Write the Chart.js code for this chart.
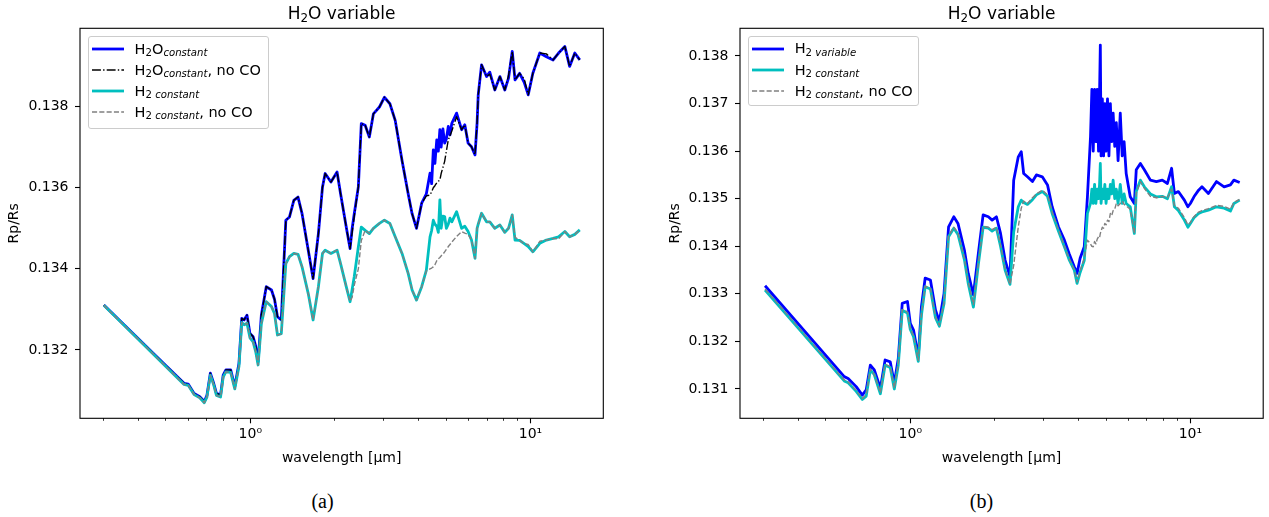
<!DOCTYPE html>
<html>
<head>
<meta charset="utf-8">
<script src="https://cdn.jsdelivr.net/npm/chart.js@4.4.0/dist/chart.umd.min.js"></script>
<style>
  body { margin: 0; background: #fff; }
  #fig { position: relative; width: 1269px; height: 517px; font-family: "DejaVu Sans", sans-serif; color: #000; overflow: hidden; }
  canvas { position: absolute; top: 0; }
  .title { position: absolute; top: 4.6px; font-size: 17px; line-height: 1; white-space: nowrap; transform: translateX(-50%); }
  .caption { position: absolute; top: 490.8px; font-family: "Liberation Serif", serif; font-size: 20px; line-height: 1; transform: translateX(-50%); }
  .legend { position: absolute; box-sizing: border-box; border: 1px solid #cccccc; border-radius: 3px; background: rgba(255,255,255,0.8); font-size: 14.5px; }
  .legend .row { position: absolute; left: 0; width: 100%; height: 21px; }
  .legend svg { position: absolute; left: 3.5px; top: 7.5px; }
  .legend .lbl { position: absolute; left: 46px; top: 0; line-height: 21px; white-space: nowrap; }
  .sub { font-size: 0.7em; position: relative; top: 0.25em; }
</style>
</head>
<body>
<div id="fig">
  <canvas id="chartA" width="640" height="471" style="left:0"></canvas>
  <canvas id="chartB" width="629" height="471" style="left:640px"></canvas>

  <div class="title" style="left:341.5px">H<span class="sub">2</span>O variable</div>
  <div class="title" style="left:1001.6px">H<span class="sub">2</span>O variable</div>

  <div class="legend" style="left:87.6px; top:35.5px; width:181.6px; height:93px">
    <div class="row" style="top:2px"><svg width="32" height="6"><line x1="0" y1="3" x2="32" y2="3" stroke="#0000ff" stroke-width="2.8"/></svg>
      <span class="lbl">H<span class="sub">2</span>O<span class="sub"><i>constant</i></span></span></div>
    <div class="row" style="top:23.1px"><svg width="32" height="6"><line x1="0" y1="3" x2="32" y2="3" stroke="#000" stroke-width="1.4" stroke-dasharray="8.9 2.2 1.4 2.2"/></svg>
      <span class="lbl">H<span class="sub">2</span>O<span class="sub"><i>constant</i></span>, no CO</span></div>
    <div class="row" style="top:44.2px"><svg width="32" height="6"><line x1="0" y1="3" x2="32" y2="3" stroke="#00bfbf" stroke-width="2.8"/></svg>
      <span class="lbl">H<span class="sub">2 <i>constant</i></span></span></div>
    <div class="row" style="top:65.3px"><svg width="32" height="6"><line x1="0" y1="3" x2="32" y2="3" stroke="#808080" stroke-width="1.4" stroke-dasharray="5.1 2.2"/></svg>
      <span class="lbl">H<span class="sub">2 <i>constant</i></span>, no CO</span></div>
  </div>

  <div class="legend" style="left:747.7px; top:35.7px; width:171.3px; height:70.3px">
    <div class="row" style="top:1.8px"><svg width="32" height="6"><line x1="0" y1="3" x2="32" y2="3" stroke="#0000ff" stroke-width="2.8"/></svg>
      <span class="lbl">H<span class="sub">2 <i>variable</i></span></span></div>
    <div class="row" style="top:22.9px"><svg width="32" height="6"><line x1="0" y1="3" x2="32" y2="3" stroke="#00bfbf" stroke-width="2.8"/></svg>
      <span class="lbl">H<span class="sub">2 <i>constant</i></span></span></div>
    <div class="row" style="top:44px"><svg width="32" height="6"><line x1="0" y1="3" x2="32" y2="3" stroke="#808080" stroke-width="1.4" stroke-dasharray="5.1 2.2"/></svg>
      <span class="lbl">H<span class="sub">2 <i>constant</i></span>, no CO</span></div>
  </div>

  <div class="caption" style="left:322.5px">(a)</div>
  <div class="caption" style="left:981.5px">(b)</div>
</div>

<script>
// ---- data (a) ----
const wavelengthA = [0.30, 0.45, 0.58, 0.60, 0.63, 0.66, 0.685, 0.70, 0.72, 0.74,
  0.757, 0.783, 0.80, 0.818, 0.851, 0.88, 0.911, 0.932, 0.95, 0.973,
  0.997, 1.023, 1.045, 1.066, 1.095, 1.14, 1.19, 1.22, 1.25, 1.29,
  1.339, 1.38, 1.43, 1.48, 1.53, 1.61, 1.675, 1.75, 1.81, 1.85,
  1.94, 2.04, 2.10, 2.20, 2.27, 2.31, 2.35, 2.43, 2.49, 2.57,
  2.66, 2.75, 2.89, 3.01, 3.15, 3.29, 3.48, 3.66, 3.78, 3.92,
  4.09, 4.25, 4.38, 4.44, 4.50, 4.56, 4.63, 4.69, 4.75, 4.80, 4.87, 4.94, 5.01, 5.09, 5.16, 5.24,
  5.45, 5.68, 5.83, 5.99, 6.16, 6.34, 6.45, 6.51, 6.69, 6.97,
  7.16, 7.46, 7.78, 8.10, 8.35, 8.61, 8.81, 9.15, 9.50, 9.82,
  10.2, 10.8, 11.4, 12.05, 12.6, 13.27, 13.8, 14.4, 15.0];

const h2oConstant = [0.13311, 0.13192, 0.13118, 0.13116, 0.13093, 0.13085, 0.13073, 0.13088, 0.13143, 0.13118,
  0.13093, 0.13089, 0.13138, 0.13151, 0.13151, 0.13110, 0.13167, 0.13278, 0.13274, 0.13286,
  0.13241, 0.13233, 0.13210, 0.13171, 0.13286, 0.13356, 0.13348, 0.13325, 0.13282, 0.13274,
  0.13520, 0.13528, 0.13569, 0.13577, 0.13536, 0.13446, 0.13376, 0.13487, 0.13602, 0.13635,
  0.13614, 0.13639, 0.13585, 0.13503, 0.13450, 0.13500, 0.13536, 0.13602, 0.13758, 0.13754,
  0.13725, 0.13782, 0.13799, 0.13823, 0.13807, 0.13766, 0.13667, 0.13585, 0.13536, 0.13500,
  0.13562, 0.13585, 0.13636, 0.13610, 0.13693, 0.13660, 0.13718, 0.13690, 0.13743, 0.13700, 0.13745, 0.13710, 0.13720, 0.13751, 0.13730, 0.13759,
  0.13784, 0.13743, 0.13755, 0.13710, 0.13701, 0.13681, 0.13760, 0.13829, 0.13903, 0.13874,
  0.13885, 0.13841, 0.13874, 0.13841, 0.13870, 0.13936, 0.13866, 0.13882, 0.13860, 0.13829,
  0.13882, 0.13932, 0.13923, 0.13915, 0.13932, 0.13948, 0.13899, 0.13932, 0.13915];

const h2oConstantNoCO = [0.13311, 0.13192, 0.13118, 0.13116, 0.13093, 0.13085, 0.13073, 0.13088, 0.13143, 0.13118,
  0.13093, 0.13089, 0.13138, 0.13151, 0.13151, 0.13110, 0.13167, 0.13278, 0.13274, 0.13286,
  0.13241, 0.13233, 0.13210, 0.13171, 0.13286, 0.13356, 0.13348, 0.13325, 0.13282, 0.13274,
  0.13520, 0.13528, 0.13569, 0.13577, 0.13536, 0.13446, 0.13376, 0.13487, 0.13602, 0.13635,
  0.13614, 0.13639, 0.13585, 0.13503, 0.13450, 0.13490, 0.13530, 0.13602, 0.13758, 0.13754,
  0.13725, 0.13782, 0.13799, 0.13823, 0.13807, 0.13766, 0.13667, 0.13585, 0.13536, 0.13500,
  0.13562, 0.13580, 0.13582, 0.13590, 0.13600, 0.13605, 0.13612, 0.13616, 0.13619, 0.13635, 0.13650, 0.13665, 0.13690, 0.13718, 0.13728, 0.13740,
  0.13775, 0.13743, 0.13755, 0.13710, 0.13701, 0.13681, 0.13760, 0.13829, 0.13903, 0.13874,
  0.13880, 0.13841, 0.13874, 0.13841, 0.13876, 0.13936, 0.13866, 0.13882, 0.13868, 0.13829,
  0.13882, 0.13932, 0.13930, 0.13915, 0.13932, 0.13948, 0.13899, 0.13932, 0.13915];

const h2Constant = [0.13310, 0.13190, 0.13115, 0.13113, 0.13090, 0.13082, 0.13070, 0.13084, 0.13138, 0.13114,
  0.13088, 0.13084, 0.13133, 0.13146, 0.13145, 0.13104, 0.13160, 0.13268, 0.13262, 0.13266,
  0.13230, 0.13220, 0.13196, 0.13163, 0.13265, 0.13319, 0.13307, 0.13290, 0.13237, 0.13240,
  0.13413, 0.13430, 0.13438, 0.13436, 0.13405, 0.13339, 0.13274, 0.13356, 0.13438, 0.13446,
  0.13438, 0.13446, 0.13413, 0.13356, 0.13319, 0.13350, 0.13381, 0.13454, 0.13503, 0.13495,
  0.13487, 0.13500, 0.13512, 0.13520, 0.13512, 0.13479, 0.13438, 0.13389, 0.13348, 0.13323,
  0.13356, 0.13397, 0.13479, 0.13495, 0.13520, 0.13510, 0.13505, 0.13490, 0.13570, 0.13500, 0.13530, 0.13529, 0.13500, 0.13510, 0.13525, 0.13516,
  0.13541, 0.13500, 0.13505, 0.13492, 0.13471, 0.13426, 0.13500, 0.13510, 0.13537, 0.13516,
  0.13516, 0.13500, 0.13508, 0.13490, 0.13500, 0.13533, 0.13471, 0.13470, 0.13462, 0.13455,
  0.13442, 0.13463, 0.13471, 0.13475, 0.13479, 0.13492, 0.13479, 0.13485, 0.13496];

const h2ConstantNoCO = [0.13310, 0.13190, 0.13115, 0.13113, 0.13090, 0.13082, 0.13070, 0.13084, 0.13138, 0.13114,
  0.13088, 0.13084, 0.13133, 0.13146, 0.13145, 0.13104, 0.13160, 0.13268, 0.13262, 0.13266,
  0.13230, 0.13220, 0.13196, 0.13163, 0.13265, 0.13319, 0.13307, 0.13290, 0.13237, 0.13240,
  0.13413, 0.13430, 0.13438, 0.13436, 0.13405, 0.13339, 0.13274, 0.13356, 0.13438, 0.13446,
  0.13438, 0.13446, 0.13413, 0.13356, 0.13320, 0.13330, 0.13360, 0.13400, 0.13470, 0.13495,
  0.13487, 0.13500, 0.13512, 0.13520, 0.13512, 0.13479, 0.13438, 0.13389, 0.13348, 0.13323,
  0.13356, 0.13395, 0.13400, 0.13402, 0.13405, 0.13410, 0.13420, 0.13425, 0.13428, 0.13432, 0.13436, 0.13442, 0.13448, 0.13455, 0.13460, 0.13466,
  0.13480, 0.13492, 0.13488, 0.13485, 0.13471, 0.13426, 0.13500, 0.13510, 0.13537, 0.13516,
  0.13516, 0.13500, 0.13508, 0.13490, 0.13500, 0.13533, 0.13478, 0.13470, 0.13462, 0.13460,
  0.13442, 0.13468, 0.13471, 0.13475, 0.13474, 0.13492, 0.13479, 0.13485, 0.13496];

// ---- data (b) ----
const wavelengthB = [0.303, 0.581, 0.60, 0.641, 0.674, 0.696, 0.72, 0.744, 0.782, 0.813,
  0.848, 0.877, 0.906, 0.936, 0.977, 1.0, 1.027, 1.068, 1.096, 1.13,
  1.18, 1.23, 1.27, 1.32, 1.37, 1.43, 1.48, 1.56, 1.61, 1.68,
  1.75, 1.82, 1.9, 1.96, 2.03, 2.1, 2.18, 2.27, 2.34, 2.43,
  2.49, 2.54, 2.62, 2.73, 2.82, 2.96, 3.09, 3.21, 3.38, 3.55,
  3.69, 3.85, 3.94, 4.04, 4.18, 4.29,
  4.40, 4.45, 4.50, 4.55, 4.60, 4.65, 4.70, 4.74, 4.77, 4.80, 4.85, 4.90, 4.95, 5.00, 5.06, 5.12, 5.18,
  5.24, 5.30, 5.37, 5.44, 5.52, 5.62, 5.71, 5.80, 5.90,
  6.1, 6.31, 6.41, 6.63, 6.85, 7.2, 7.56, 7.94, 8.28, 8.57,
  8.77, 9.06, 9.52, 9.8, 10.0, 10.3, 10.7, 11.0, 11.6, 12.4,
  13.2, 13.9, 14.3, 15.0];

const h2Variable = [0.13317, 0.13126, 0.13122, 0.13105, 0.13087, 0.13098, 0.13150, 0.13140, 0.13101, 0.13161,
  0.13157, 0.13112, 0.13164, 0.13280, 0.13284, 0.13238, 0.13224, 0.13168, 0.13273, 0.13333,
  0.13329, 0.13266, 0.13242, 0.13301, 0.13441, 0.13462, 0.13448, 0.13392, 0.13343, 0.13298,
  0.13385, 0.13466, 0.13462, 0.13455, 0.13462, 0.13427, 0.13371, 0.13336, 0.13539, 0.13588,
  0.13599, 0.13553, 0.13546, 0.13536, 0.13550, 0.13546, 0.13529, 0.13483, 0.13441, 0.13413,
  0.13385, 0.13357, 0.13343, 0.13375, 0.13399, 0.13504,
  0.13630, 0.13730, 0.13600, 0.13730, 0.13620, 0.13730, 0.13600, 0.13720, 0.13823, 0.13590, 0.13710, 0.13590, 0.13700, 0.13600, 0.13710, 0.13590, 0.13700,
  0.13620, 0.13680, 0.13610, 0.13660, 0.13580, 0.13680, 0.13590, 0.13620, 0.13553,
  0.13504, 0.13490, 0.13561, 0.13574, 0.13561, 0.13539, 0.13536, 0.13539, 0.13532, 0.13564,
  0.13511, 0.13515, 0.13497, 0.13483, 0.13490, 0.13504, 0.13518, 0.13525, 0.13511, 0.13536,
  0.13525, 0.13529, 0.13539, 0.13534];

const h2ConstantB = [0.13308, 0.13117, 0.13113, 0.13095, 0.13078, 0.13085, 0.13140, 0.13130, 0.13090, 0.13150,
  0.13145, 0.13100, 0.13150, 0.13265, 0.13260, 0.13225, 0.13210, 0.13158, 0.13255, 0.13315,
  0.13310, 0.13250, 0.13232, 0.13280, 0.13420, 0.13438, 0.13425, 0.13372, 0.13322, 0.13272,
  0.13362, 0.13440, 0.13438, 0.13432, 0.13438, 0.13400, 0.13350, 0.13320, 0.13430, 0.13483,
  0.13497, 0.13492, 0.13488, 0.13498, 0.13508, 0.13515, 0.13505, 0.13469, 0.13432, 0.13399,
  0.13372, 0.13350, 0.13322, 0.13345, 0.13370, 0.13469,
  0.13490, 0.13520, 0.13490, 0.13530, 0.13490, 0.13520, 0.13500, 0.13530, 0.13574, 0.13490, 0.13520, 0.13500, 0.13530, 0.13490, 0.13520, 0.13500, 0.13530,
  0.13510, 0.13539, 0.13500, 0.13520, 0.13490, 0.13530, 0.13490, 0.13510, 0.13490,
  0.13483, 0.13427, 0.13515, 0.13539, 0.13525, 0.13510, 0.13504, 0.13505, 0.13500, 0.13525,
  0.13483, 0.13475, 0.13455, 0.13440, 0.13448, 0.13460, 0.13469, 0.13472, 0.13476, 0.13483,
  0.13480, 0.13474, 0.13490, 0.13497];

const h2ConstantNoCOB = [0.13310, 0.13119, 0.13115, 0.13097, 0.13080, 0.13088, 0.13142, 0.13130, 0.13092, 0.13152,
  0.13147, 0.13102, 0.13152, 0.13267, 0.13262, 0.13227, 0.13212, 0.13160, 0.13257, 0.13316,
  0.13311, 0.13252, 0.13234, 0.13282, 0.13422, 0.13440, 0.13428, 0.13375, 0.13325, 0.13278,
  0.13365, 0.13442, 0.13440, 0.13435, 0.13440, 0.13402, 0.13352, 0.13320, 0.13360, 0.13441,
  0.13480, 0.13495, 0.13490, 0.13502, 0.13510, 0.13518, 0.13508, 0.13472, 0.13435, 0.13400,
  0.13374, 0.13350, 0.13325, 0.13348, 0.13375, 0.13413,
  0.13405, 0.13400, 0.13399, 0.13410, 0.13405, 0.13415, 0.13420, 0.13418, 0.13427, 0.13432, 0.13440, 0.13438, 0.13448, 0.13445, 0.13455, 0.13452, 0.13469,
  0.13465, 0.13475, 0.13478, 0.13490, 0.13485, 0.13490, 0.13495, 0.13488, 0.13485,
  0.13478, 0.13427, 0.13512, 0.13536, 0.13522, 0.13505, 0.13502, 0.13505, 0.13502, 0.13520,
  0.13486, 0.13480, 0.13460, 0.13445, 0.13450, 0.13462, 0.13472, 0.13475, 0.13479, 0.13486,
  0.13484, 0.13478, 0.13492, 0.13499];

// axis ticks
const xTickValues = [0.3, 0.4, 0.5, 0.6, 0.7, 0.8, 0.9, 1, 2, 3, 4, 5, 6, 7, 8, 9, 10];
const xMajorTicks = [1, 10];
const xMajorLabels = ['10\u2070', '10\u00b9'];
const yTicksA = [0.132, 0.134, 0.136, 0.138];
const yTicksB = [0.131, 0.132, 0.133, 0.134, 0.135, 0.136, 0.137, 0.138];

Chart.defaults.font.family = "'DejaVu Sans', sans-serif";
Chart.defaults.color = '#000';

const toPoints = (xs, ys) => xs.map((x, i) => ({x: x, y: ys[i]}));

const line = (label, xs, ys, color, width, dash, order) => ({
  label: label,
  data: toPoints(xs, ys),
  borderColor: color,
  borderWidth: width,
  borderDash: dash,
  borderJoinStyle: 'round',
  order: order,
  pointRadius: 0,
  fill: false,
  tension: 0
});

// frame around the plot area, like matplotlib spines
const boxPlugin = {
  id: 'box',
  afterDatasetsDraw(chart) {
    const {ctx, chartArea: a} = chart;
    ctx.save();
    ctx.strokeStyle = '#000';
    ctx.lineWidth = 1.1;
    ctx.strokeRect(a.left, a.top, a.right - a.left, a.bottom - a.top);
    ctx.restore();
  }
};

const isMajor = ctx => ctx.tick && xMajorTicks.includes(ctx.tick.value);

function spectrumChart(id, datasets, yMin, yMax, yTicks, padLeft, plotLeft, padRight) {
  return new Chart(document.getElementById(id), {
    type: 'line',
    data: {datasets: datasets},
    plugins: [boxPlugin],
    options: {
      responsive: false,
      animation: false,
      events: [],
      layout: {padding: {top: 28.3, left: padLeft, right: padRight, bottom: 0}},
      plugins: {legend: {display: false}, tooltip: {enabled: false}},
      scales: {
        x: {
          type: 'logarithmic',
          min: 0.2466,
          max: 18.2,
          offset: false,
          afterBuildTicks: s => { s.ticks = xTickValues.map(v => ({value: v})); },
          afterFit: s => { s.height = 52.7; },
          border: {display: false},
          grid: {
            drawOnChartArea: false,
            tickLength: 5,
            tickColor: '#000',
            tickWidth: ctx => isMajor(ctx) ? 1.1 : 0.8,
            tickBorderDash: ctx => isMajor(ctx) ? [] : [2.8, 20]
          },
          ticks: {
            autoSkip: false,
            maxRotation: 0,
            minRotation: 0,
            padding: 3,
            font: {size: 14},
            callback: v => {
              const i = xMajorTicks.indexOf(v);
              return i >= 0 ? xMajorLabels[i] : '';
            }
          },
          title: {display: true, text: 'wavelength [\u03bcm]', font: {size: 14}}
        },
        y: {
          min: yMin,
          max: yMax,
          afterBuildTicks: s => { s.ticks = yTicks.map(v => ({value: v})); },
          afterFit: s => { s.width = plotLeft - padLeft; },
          border: {display: false},
          grid: {drawOnChartArea: false, tickLength: 5, tickColor: '#000', tickWidth: 1.1},
          ticks: {padding: 6.5, font: {size: 14}, callback: v => v.toFixed(3)},
          title: {display: true, text: 'Rp/Rs', font: {size: 14}}
        }
      }
    }
  });
}

spectrumChart('chartA', [
  line('H2O constant', wavelengthA, h2oConstant, '#0000ff', 2.8, [], 3),
  line('H2O constant, no CO', wavelengthA, h2oConstantNoCO, '#000000', 1.4, [8.9, 2.2, 1.4, 2.2], 2),
  line('H2 constant', wavelengthA, h2Constant, '#00bfbf', 2.8, [], 1),
  line('H2 constant, no CO', wavelengthA, h2ConstantNoCO, '#808080', 1.4, [5.1, 2.2], 0)
], 0.130316, 0.13993, yTicksA, 1.6, 80, 36.7);

spectrumChart('chartB', [
  line('H2 variable', wavelengthB, h2Variable, '#0000ff', 2.8, [], 2),
  line('H2 constant', wavelengthB, h2ConstantB, '#00bfbf', 2.8, [], 1),
  line('H2 constant, no CO', wavelengthB, h2ConstantNoCOB, '#808080', 1.4, [5.1, 2.2], 0)
], 0.130384, 0.138582, yTicksB, 22.6, 100, 5.8);
</script>
</body>
</html>
